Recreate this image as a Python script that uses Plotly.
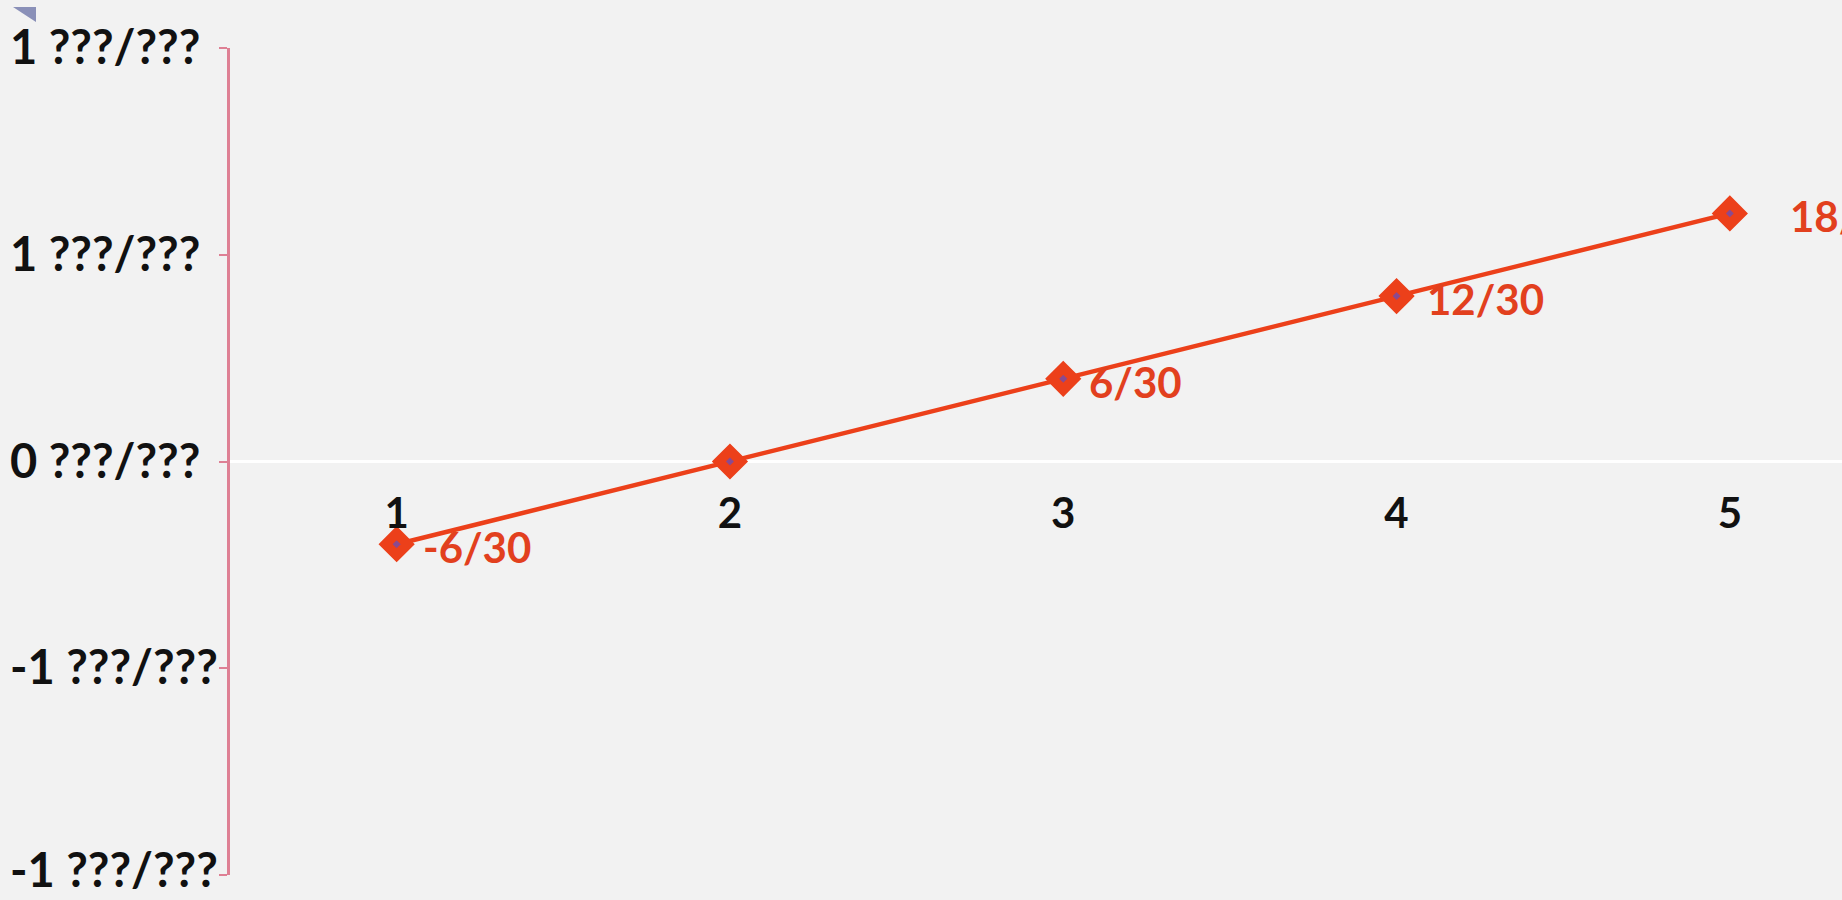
import plotly.graph_objects as go

# Series: five periods, values in thirtieths
periods = [1, 2, 3, 4, 5]
values = [-6 / 30, 0, 6 / 30, 12 / 30, 18 / 30]
point_labels = ["-6/30", "", "6/30", "12/30", "18/30"]
label_xshift = [24, 24, 24, 28, 58]

# Value axis ticks as printed by the spreadsheet format
y_tickvals = [-1, -0.5, 0, 0.5, 1]
y_ticktext = ["-1 ???/???", "-1 ???/???", "0 ???/???", "1 ???/???", "1 ???/???"]
y_label_yshift = [6, 2, 2, 2, 2]
x_ticktext = ["1", "2", "3", "4", "5"]

W, H = 1842, 900
ML, MR, MT, MB = 230, 0, 48, 25
plot_w = W - ML - MR
cat_px = 333.3  # width of one category slot
x_hi = 0.5 + plot_w / cat_px

RED = "#ec401a"
LABEL_RED = "#e2401e"
AXIS_PINK = "#de8094"
INK = "#111111"
FONT = "Lato"

fig = go.Figure()

fig.add_trace(go.Scatter(
    x=periods,
    y=values,
    mode="lines+markers",
    line=dict(color=RED, width=4.5),
    marker=dict(symbol="diamond", size=17, color="#8a4a90",
                line=dict(color=RED, width=10)),
    hoverinfo="skip",
    showlegend=False,
    cliponaxis=False,
))

# data labels to the right of each point
for xv, yv, txt, dx in zip(periods, values, point_labels, label_xshift):
    if not txt:
        continue
    fig.add_annotation(
        x=xv, y=yv, text=txt, showarrow=False,
        xanchor="left", yanchor="middle", xshift=dx, yshift=-3,
        font=dict(family=FONT, size=42, color=LABEL_RED, weight="bold"),
    )


def px_x(p):
    return (p - ML) / plot_w


def px_y(p):
    return (H - MB - p) / (H - MT - MB)


# value-axis labels, left-aligned at the chart edge
for tv, tt, dy in zip(y_tickvals, y_ticktext, y_label_yshift):
    fig.add_annotation(
        xref="paper", yref="y", x=px_x(9), y=tv, text=tt,
        showarrow=False, xanchor="left", yanchor="middle", yshift=dy,
        borderpad=0,
        font=dict(family=FONT, size=47, color=INK, weight="bold"),
    )

# small selection marker in the upper-left corner
fig.add_shape(
    type="path", xref="paper", yref="paper",
    path=(f"M {px_x(13)},{px_y(7)} L {px_x(36)},{px_y(7)} "
          f"L {px_x(36)},{px_y(22)} Z"),
    fillcolor="#8a90b8", line=dict(width=0), layer="above",
)

fig.update_layout(
    width=W, height=H,
    margin=dict(l=ML, r=MR, t=MT, b=MB, pad=0),
    paper_bgcolor="#f2f2f2",
    plot_bgcolor="#f2f2f2",
    showlegend=False,
    xaxis=dict(
        range=[0.5, x_hi],
        tickvals=periods, ticktext=x_ticktext,
        anchor="free", position=0.5,
        showline=False, showgrid=False, zeroline=False,
        ticks="", ticklabelstandoff=23,
        tickfont=dict(family=FONT, size=42, color=INK, weight="bold"),
        automargin=False, fixedrange=True,
    ),
    yaxis=dict(
        range=[-1, 1],
        tickvals=y_tickvals,
        showticklabels=False,
        showline=True, linecolor=AXIS_PINK, linewidth=2.5,
        ticks="outside", ticklen=8, tickwidth=2, tickcolor=AXIS_PINK,
        showgrid=False,
        zeroline=True, zerolinecolor="#ffffff", zerolinewidth=3,
        automargin=False, fixedrange=True,
    ),
)

fig.write_html("out.html")
